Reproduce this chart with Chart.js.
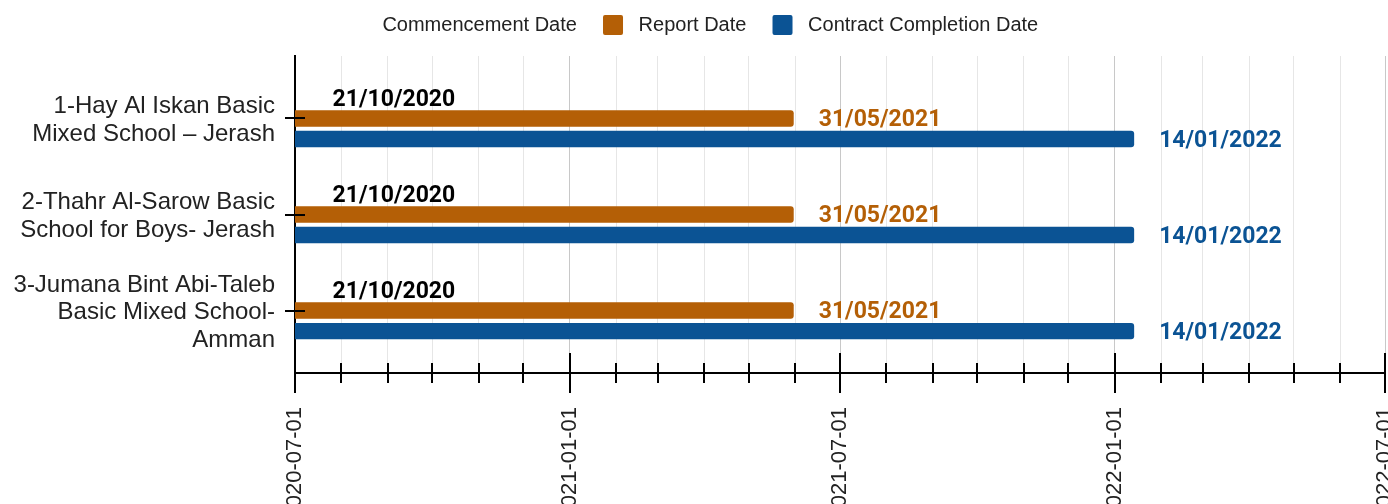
<!DOCTYPE html>
<html><head><meta charset="utf-8">
<script src="https://cdn.jsdelivr.net/npm/chart.js@4.4.1/dist/chart.umd.min.js"></script>
<style>html,body{margin:0;padding:0;background:#fff;overflow:hidden}#wrap{position:relative;width:1388px;height:504px}</style>
</head><body><div id="wrap"><canvas id="c"></canvas></div>
<script>
// ---- data ----
const categories = [
  ['1-Hay Al Iskan Basic', 'Mixed School – Jerash'],
  ['2-Thahr Al-Sarow Basic', 'School for Boys- Jerash'],
  ['3-Jumana Bint Abi-Taleb', 'Basic Mixed School-', 'Amman']
];
const seriesNames = ['Commencement Date', 'Report Date', 'Contract Completion Date'];
const commencementDates = ['2020-10-21', '2020-10-21', '2020-10-21'];
const reportDates = ['2021-05-31', '2021-05-31', '2021-05-31'];
const completionDates = ['2022-01-14', '2022-01-14', '2022-01-14'];
const axisStart = '2020-07-01';
const axisEnd = '2022-07-01';
const majorTickLabels = ['2020-07-01', '2021-01-01', '2021-07-01', '2022-01-01', '2022-07-01'];

// ---- styles ----
const seriesColors = ['rgba(0,0,0,0)', '#B45F06', '#0B5394'];
const labelColors = ['#000000', '#B45F06', '#0B5394'];
const FONT = "'Liberation Sans', Arial, sans-serif";

const ts = s => Date.parse(s + 'T00:00:00Z');
const fmt = s => { const [y, m, d] = s.split('-'); return d + '/' + m + '/' + y; };
const dateSeries = [commencementDates, reportDates, completionDates];
const majorMap = new Map(majorTickLabels.map(s => [ts(s), s]));

// monthly axis ticks
const monthTicks = [];
{
  const a = new Date(ts(axisStart)), b = ts(axisEnd);
  let y = a.getUTCFullYear(), m = a.getUTCMonth();
  while (Date.UTC(y, m, 1) <= b) { monthTicks.push(Date.UTC(y, m, 1)); m++; if (m > 11) { m = 0; y++; } }
}

const dataLabels = {
  id: 'dataLabels',
  afterDatasetsDraw(chart) {
    const ctx = chart.ctx;
    ctx.save();
    ctx.font = "bold 23px Roboto, 'Liberation Sans', sans-serif";
    ctx.textBaseline = 'middle';
    chart.data.datasets.forEach((ds, di) => {
      const meta = chart.getDatasetMeta(di);
      meta.data.forEach((bar, i) => {
        const txt = fmt(dateSeries[di][i]);
        ctx.fillStyle = labelColors[di];
        if (di === 0) { ctx.textAlign = 'right'; ctx.fillText(txt, bar.x - 7, bar.y + 2); }
        else { ctx.textAlign = 'left'; ctx.fillText(txt, bar.x + 25, bar.y + 2); }
      });
    });
    ctx.restore();
  }
};

const tickMarks = {
  id: 'tickMarks',
  afterDraw(chart) {
    const { ctx, chartArea } = chart;
    const x = chart.scales.x, y = chart.scales.y;
    ctx.save();
    ctx.strokeStyle = '#000';
    ctx.lineWidth = 2;
    const yb = chartArea.bottom;
    x.ticks.forEach(t => {
      const px = Math.round(x.getPixelForValue(t.value));
      const major = majorMap.has(t.value);
      ctx.beginPath();
      ctx.moveTo(px, yb - (major ? 20 : 10));
      ctx.lineTo(px, yb + (major ? 20 : 10));
      ctx.stroke();
    });
    y.ticks.forEach(t => {
      const py = Math.round(y.getPixelForValue(t.value));
      ctx.beginPath();
      ctx.moveTo(chartArea.left - 10, py);
      ctx.lineTo(chartArea.left + 10, py);
      ctx.stroke();
    });
    ctx.restore();
  }
};

const datasets = seriesNames.map((name, di) => ({
  label: name,
  data: dateSeries[di].map((d, i) => ({ x: ts(d), y: i })),
  backgroundColor: seriesColors[di],
  borderWidth: 0,
  borderRadius: 3,
  borderSkipped: false,
  categoryPercentage: 0.642,
  barPercentage: 0.8
}));

new Chart(document.getElementById('c'), {
  type: 'bar',
  data: { datasets },
  plugins: [dataLabels, tickMarks],
  options: {
    indexAxis: 'y',
    animation: false,
    responsive: true,
    maintainAspectRatio: false,
    layout: { padding: { top: 0, left: 0, right: 3, bottom: 0 } },
    plugins: {
      tooltip: { enabled: false },
      title: { display: true, text: '', weight: 500, font: { size: 1, lineHeight: 1 }, padding: { top: 0, bottom: 10 } },
      legend: {
        position: 'top',
        labels: {
          font: { family: FONT, size: 20 },
          color: '#222',
          boxWidth: 20,
          boxHeight: 20,
          padding: 15,
          useBorderRadius: true,
          borderRadius: 2,
          generateLabels(chart) {
            const items = Chart.defaults.plugins.legend.labels.generateLabels(chart);
            items.forEach((it, i) => {
              it.text = ' ' + it.text + (i < items.length - 1 ? '  ' : '');
            });
            return items;
          }
        }
      }
    },
    scales: {
      x: {
        type: 'linear',
        position: 'bottom',
        min: ts(axisStart),
        max: ts(axisEnd),
        offset: false,
        afterBuildTicks(s) { s.ticks = monthTicks.map(v => ({ value: v })); },
        afterFit(s) { s.height = 131; s.paddingLeft = 0; s.paddingRight = 0; },
        ticks: {
          autoSkip: false, minRotation: 90, maxRotation: 90, padding: 14,
          font: { family: FONT, size: 22 }, color: '#222',
          callback(v) { return majorMap.get(v) || ''; }
        },
        grid: {
          offset: false,
          color: c => (c.tick && majorMap.has(c.tick.value)) ? '#c8c8c8' : '#e6e6e6',
          lineWidth: 1,
          drawTicks: true,
          tickLength: 20,
          tickColor: 'rgba(0,0,0,0)'
        },
        border: { color: '#000', width: 2 }
      },
      y: {
        type: 'linear',
        reverse: true,
        min: -0.65,
        max: 2.65,
        offset: false,
        afterBuildTicks(s) { s.ticks = categories.map((_, i) => ({ value: i })); },
        afterFit(s) { s.width = 295; s.paddingTop = 0; s.paddingBottom = 0; },
        ticks: {
          autoSkip: false, padding: 10, labelOffset: 2,
          font: { family: FONT, size: 24, lineHeight: 1.15 }, color: '#222',
          callback(v) { return categories[v]; }
        },
        grid: { offset: false, drawOnChartArea: false, drawTicks: true, tickLength: 10, tickColor: 'rgba(0,0,0,0)' },
        border: { color: '#000', width: 2 }
      }
    }
  }
});
</script>
</body></html>
